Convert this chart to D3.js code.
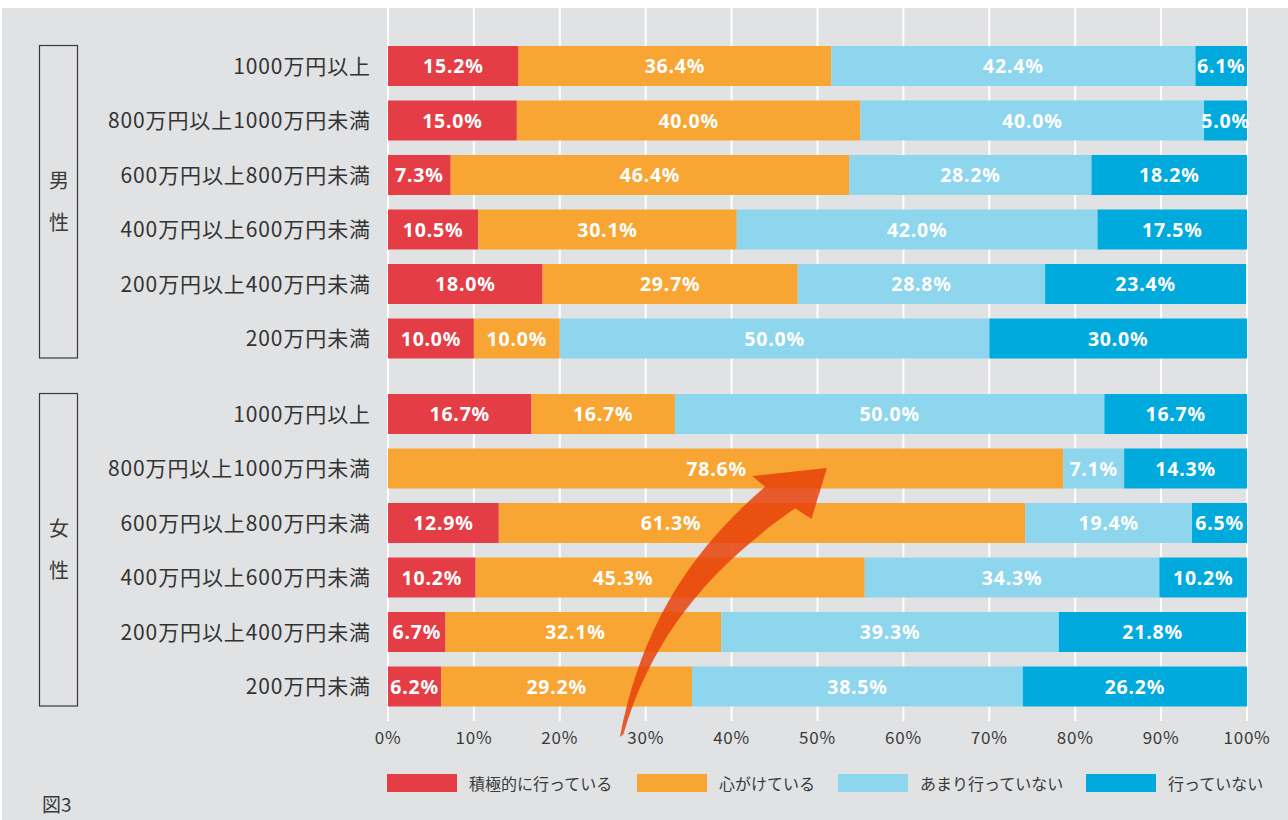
<!DOCTYPE html>
<html>
<head>
<meta charset="utf-8">
<script src="https://cdn.jsdelivr.net/npm/d3@7"></script>
<style>
  body { margin: 0; background: #fff; }
  text { font-family: "Noto Sans CJK JP", "Noto Sans", sans-serif; }
</style>
</head>
<body>
<div id="chart"></div>
<script>
// categories
var groups = ['男性', '女性']
var incomes = ['1000万円以上', '800万円以上1000万円未満', '600万円以上800万円未満',
  '400万円以上600万円未満', '200万円以上400万円未満', '200万円未満']
var answers = ['積極的に行っている', '心がけている', 'あまり行っていない', '行っていない']
// series values (%), one row per income band
var menValues = [
  [15.2, 36.4, 42.4, 6.1],
  [15.0, 40.0, 40.0, 5.0],
  [7.3, 46.4, 28.2, 18.2],
  [10.5, 30.1, 42.0, 17.5],
  [18.0, 29.7, 28.8, 23.4],
  [10.0, 10.0, 50.0, 30.0]
]
var womenValues = [
  [16.7, 16.7, 50.0, 16.7],
  [0, 78.6, 7.1, 14.3],
  [12.9, 61.3, 19.4, 6.5],
  [10.2, 45.3, 34.3, 10.2],
  [6.7, 32.1, 39.3, 21.8],
  [6.2, 29.2, 38.5, 26.2]
]
var tickValues = [0, 10, 20, 30, 40, 50, 60, 70, 80, 90, 100]
var figureLabel = '図3'

var width = 1288
var height = 820
var colors = ['#e53d46', '#f9a533', '#8ed6ed', '#00aadd']
// labels nudged left so they stay clear of the arrow (group-row-series)
var labelNudge = { '1-1-1': -9, '1-2-1': -91, '1-3-1': -47, '1-4-1': -8, '1-5-1': -10 }

var svg = d3.select('#chart').append('svg')
  .attr('width', width)
  .attr('height', height)

svg.append('rect')
  .attr('x', 2).attr('y', 8)
  .attr('width', width - 2).attr('height', height - 8)
  .attr('fill', '#e1e2e4')

var x = d3.scaleLinear().domain([0, 100]).range([388, 1247])

// one band scale per group block
var groupRanges = [[38.75, 365.75], [386.75, 713.75]]
var yScales = groupRanges.map(r => d3.scaleBand().domain(incomes).range(r).paddingInner(0.266).paddingOuter(0.133))

// grid lines
svg.append('g')
  .selectAll('line')
  .data(tickValues)
  .enter()
  .append('line')
  .attr('x1', d => x(d)).attr('x2', d => x(d))
  .attr('y1', 8).attr('y2', 721)
  .attr('stroke', '#fff')
  .attr('stroke-width', 2)

// tick labels
svg.append('g')
  .selectAll('text')
  .data(tickValues)
  .enter()
  .append('text')
  .attr('x', d => x(d))
  .attr('y', 744)
  .attr('text-anchor', 'middle')
  .attr('font-size', 17)
  .attr('letter-spacing', 0.8)
  .attr('fill', '#3a3a3a')
  .text(d => d + '%')

var data = [menValues, womenValues]

data.forEach((rows, gi) => {
  var y = yScales[gi]
  var g = svg.append('g').attr('class', 'group-' + gi)

  // group box with vertical label
  var top = y(incomes[0])
  var bottom = y(incomes[incomes.length - 1]) + y.bandwidth()
  g.append('rect')
    .attr('x', 39.5).attr('y', top - 0.5)
    .attr('width', 38).attr('height', bottom - top)
    .attr('fill', 'none')
    .attr('stroke', '#3a3a3a')
    .attr('stroke-width', 1.2)
  var mid = (top + bottom) / 2
  g.selectAll('.glabel')
    .data(groups[gi].split(''))
    .enter()
    .append('text')
    .attr('x', 59)
    .attr('y', (d, i) => mid + (i - 0.5) * 42 + 7)
    .attr('text-anchor', 'middle')
    .attr('font-size', 20)
    .attr('fill', '#3a3a3a')
    .text(d => d)

  // category labels
  g.selectAll('.cat')
    .data(incomes)
    .enter()
    .append('text')
    .attr('x', 371)
    .attr('y', d => y(d) + y.bandwidth() / 2 + 7.5)
    .attr('text-anchor', 'end')
    .attr('font-size', 21)
    .attr('letter-spacing', 0.9)
    .attr('fill', '#333')
    .text(d => d)

  rows.forEach((vals, ri) => {
    var cum = 0
    var segs = vals.map((v, k) => {
      var s = { k: k, v: v, x0: cum, x1: Math.min(100, cum + v), dx: labelNudge[gi + '-' + ri + '-' + k] || 0 }
      cum += v
      return s
    }).filter(s => s.v > 0)
    var row = g.append('g')
    var yy = y(incomes[ri])
    row.selectAll('rect')
      .data(segs)
      .enter()
      .append('rect')
      .attr('x', d => x(d.x0))
      .attr('y', yy)
      .attr('width', d => x(d.x1) - x(d.x0))
      .attr('height', y.bandwidth())
      .attr('fill', d => colors[d.k])
    row.selectAll('text')
      .data(segs)
      .enter()
      .append('text')
      .attr('x', d => (x(d.x0) + x(d.x1)) / 2 + d.dx)
      .attr('y', yy + y.bandwidth() / 2 + 7)
      .attr('text-anchor', 'middle')
      .attr('font-size', 19.5)
      .attr('font-weight', 'bold')
      .attr('letter-spacing', 0.8)
      .attr('fill', '#fff')
      .style('font-family', '"Noto Sans", sans-serif')
      .text(d => d.v.toFixed(1) + '%')
  })
})

// curved arrow annotation, anchored to the axis scale
var ay = d3.scaleLinear().domain([0, 1]).range([737, 468])
var arrowPts = {
  tail: [x(27.0), ay(0)],
  c1: [x(29.2), ay(0.36)],
  c2: [x(34.0), ay(0.66)],
  baseL: [x(43.9), ay(0.93)],
  barbL: [x(42.4), ay(0.97)],
  tip: [x(51.1), ay(1)],
  barbR: [x(49.3), ay(0.81)],
  baseR: [x(47.4), ay(0.85)],
  c3: [x(37.0), ay(0.62)],
  c4: [x(30.6), ay(0.36)],
  tail2: [x(27.4), ay(0.01)]
}
var p = d3.path()
p.moveTo(...arrowPts.tail)
p.bezierCurveTo(...arrowPts.c1, ...arrowPts.c2, ...arrowPts.baseL)
p.lineTo(...arrowPts.barbL)
p.lineTo(...arrowPts.tip)
p.lineTo(...arrowPts.barbR)
p.lineTo(...arrowPts.baseR)
p.bezierCurveTo(...arrowPts.c3, ...arrowPts.c4, ...arrowPts.tail2)
p.closePath()
svg.append('path')
  .attr('d', p.toString())
  .attr('fill', '#e8420c')
  .attr('opacity', 0.85)

// legend
var legendX = [387, 637, 838, 1086]
var legend = svg.append('g')
  .selectAll('g')
  .data(answers)
  .enter()
  .append('g')
  .attr('transform', (d, i) => `translate(${legendX[i]},774)`)
legend.append('rect')
  .attr('width', 70).attr('height', 18)
  .attr('fill', (d, i) => colors[i])
legend.append('text')
  .attr('x', 82).attr('y', 16)
  .attr('font-size', 16)
  .attr('fill', '#3a3a3a')
  .text(d => d)

svg.append('text')
  .attr('x', 42).attr('y', 812)
  .attr('font-size', 19)
  .attr('fill', '#3a3a3a')
  .text(figureLabel)
</script>
</body>
</html>
